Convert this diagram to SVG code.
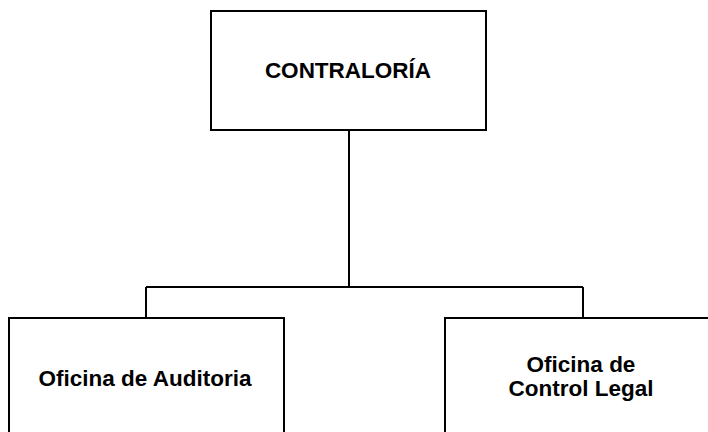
<svg xmlns="http://www.w3.org/2000/svg" width="708" height="432" viewBox="0 0 708 432">
<style>
.box{fill:#fff;stroke:#000;stroke-width:2}
.ln{fill:none;stroke:#000;stroke-width:2}
text{font-family:"Liberation Sans",Arial,sans-serif;font-weight:bold;font-size:22.5px;fill:#000;text-anchor:middle}
</style>
<rect width="708" height="432" fill="#fff"/>
<g id="connectors">
<path class="ln" d="M349 130V287M146 287H583M146 287V318M583 287V318"/>
</g>
<g id="contraloria">
<rect class="box" x="211" y="11" width="275" height="119"/>
<text x="348" y="78">CONTRALORÍA</text>
</g>
<g id="auditoria">
<rect class="box" x="9" y="318" width="275" height="130"/>
<text x="145" y="386">Oficina de Auditoria</text>
</g>
<g id="control-legal">
<rect class="box" x="445" y="318" width="275" height="130"/>
<text x="581" y="372">Oficina de</text>
<text x="581" y="396">Control Legal</text>
</g>
</svg>
